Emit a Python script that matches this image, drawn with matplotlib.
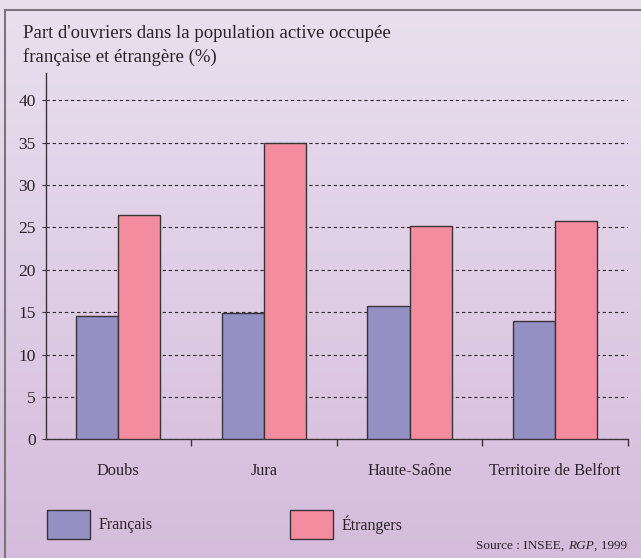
import matplotlib
matplotlib.use('Agg')
import matplotlib.pyplot as plt
from matplotlib.colors import LinearSegmentedColormap
import numpy as np

# données (%)
departements = ['Doubs', 'Jura', 'Haute-Saône', 'Territoire de Belfort']
francais = [14.6, 14.9, 15.7, 13.9]
etrangers = [26.5, 35.0, 25.1, 25.8]
yticks = [0, 5, 10, 15, 20, 25, 30, 35, 40]

col_fr = '#9490c4'
col_et = '#f48ca0'
edge = '#3a3438'
txt = '#2a2228'

plt.rcParams['font.family'] = ['Liberation Serif', 'DejaVu Serif']

W, H = 641, 558
fig = plt.figure(figsize=(W / 100, H / 100), dpi=100)

# fond en dégradé
bg = fig.add_axes([0, 0, 1, 1], zorder=-10)
grad = np.linspace(0, 1, 256).reshape(-1, 1)
cmap = LinearSegmentedColormap.from_list('fond', ['#e9e0ef', '#d5bcdc'])
bg.imshow(grad, aspect='auto', cmap=cmap, extent=[0, 1, 0, 1], origin='upper')
bg.set_xlim(0, 1)
bg.set_ylim(0, 1)
bg.axis('off')
# cadre (haut et gauche)
bg.plot([5 / W, 1], [1 - 10 / H, 1 - 10 / H], color='#7a747c', lw=1.5)
bg.plot([5 / W, 5 / W], [0, 1 - 10 / H], color='#7a747c', lw=1.5)

# axe principal
x0, x1 = 45.5, 628
yb, yt = 439.3, 73
ax = fig.add_axes([x0 / W, 1 - yb / H, (x1 - x0) / W, (yb - yt) / H])
ax.patch.set_alpha(0)

x = np.arange(len(departements)) + 0.5
bw = 0.289
ax.bar(x - bw / 2, francais, bw, color=col_fr, edgecolor=edge, linewidth=1, zorder=3)
ax.bar(x + bw / 2, etrangers, bw, color=col_et, edgecolor=edge, linewidth=1, zorder=3)

ax.set_xlim(0, len(departements))
ax.set_ylim(0, 43.2)

ax.set_yticks(yticks)
ax.set_yticklabels([str(v) for v in yticks])
ax.yaxis.grid(True, color='#2e2a30', linestyle=(0, (3, 2.5)), linewidth=0.8)
ax.set_axisbelow(True)

ax.set_xticks(np.arange(1, len(departements) + 1))
ax.set_xticklabels([])
ax.set_xticks(x, minor=True)
ax.set_xticklabels(departements, minor=True)
ax.tick_params(axis='x', which='major', direction='out', length=5, width=1, color=edge)
ax.tick_params(axis='x', which='minor', length=0, pad=17, labelsize=11.8, labelcolor=txt)
ax.tick_params(axis='y', direction='out', length=3, width=0.8, color=edge, pad=4,
               labelsize=12.5, labelcolor=txt)

for s in ['top', 'right']:
    ax.spines[s].set_visible(False)
for s in ['left', 'bottom']:
    ax.spines[s].set_color(edge)
    ax.spines[s].set_linewidth(1)

# titre
fig.text(23 / W, 1 - 33 / H, "Part d'ouvriers dans la population active occupée",
         fontsize=13.5, color=txt, va='center', ha='left')
fig.text(23 / W, 1 - 57 / H, "française et étrangère (%)",
         fontsize=13.5, color=txt, va='center', ha='left')

# légende
for (lx, lab, c) in [(46.7, 'Français', col_fr), (290, 'Étrangers', col_et)]:
    rect = plt.Rectangle((lx / W, 1 - 539.3 / H), 43.3 / W, 29.3 / H,
                         transform=fig.transFigure, facecolor=c,
                         edgecolor=edge, linewidth=1)
    fig.add_artist(rect)
    fig.text((lx + 51.5) / W, 1 - 525 / H, lab, fontsize=11.5, color=txt,
             va='center', ha='left')

# source (morceaux posés de droite à gauche, RGP en italique)
renderer = fig.canvas.get_renderer()
xr = 626.5
for piece, style in [(', 1999', 'normal'), ('RGP', 'italic'), ('Source : INSEE, ', 'normal')]:
    t = fig.text(xr / W, 1 - 549 / H, piece, fontsize=9.5, color=txt, style=style,
                 va='baseline', ha='right')
    bb = t.get_window_extent(renderer)
    xr -= bb.width

fig.savefig('out.png', dpi=100)
